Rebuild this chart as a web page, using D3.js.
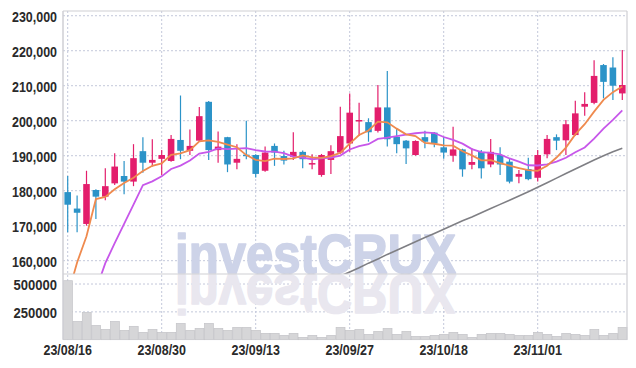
<!DOCTYPE html>
<html><head><meta charset="utf-8">
<script src="https://cdn.jsdelivr.net/npm/d3@7"></script>
<style>
html,body{margin:0;padding:0;background:#fff;}
svg{display:block;}
.lbl{font-family:"Liberation Sans",Arial,sans-serif;font-size:14px;fill:#2a2a2a;font-weight:bold;}
</style></head>
<body><svg id="c" width="636" height="368"></svg>
<script>
const dates = ["23/08/16","23/08/17","23/08/18","23/08/21","23/08/22","23/08/23","23/08/24","23/08/25","23/08/28","23/08/29",
"23/08/30","23/08/31","23/09/01","23/09/04","23/09/05","23/09/06","23/09/07","23/09/08","23/09/11","23/09/12",
"23/09/13","23/09/14","23/09/15","23/09/18","23/09/19","23/09/20","23/09/21","23/09/22","23/09/25","23/09/26",
"23/09/27","23/10/04","23/10/05","23/10/06","23/10/10","23/10/11","23/10/12","23/10/13","23/10/16","23/10/17",
"23/10/18","23/10/19","23/10/20","23/10/23","23/10/24","23/10/25","23/10/26","23/10/27","23/10/30","23/10/31",
"23/11/01","23/11/02","23/11/03","23/11/06","23/11/07","23/11/08","23/11/09","23/11/10","23/11/13","23/11/14"];
const open  = [179600,174900,170500,180200,178300,182100,184200,182600,191300,188000,
189100,188500,194500,191400,194300,205400,191600,195300,188000,190300,
190200,185700,192800,189900,189700,191100,187700,184500,188800,190900,
193500,200000,199600,197100,203800,195400,194300,190200,195300,196600,
192400,190000,191800,187400,191100,187500,190200,188300,184000,186200,
183700,190400,195300,194400,195900,204000,205100,215900,215200,207800];
const high  = [184200,178600,185700,180400,186400,190700,188500,193300,195300,194700,
191600,195900,207200,197500,203900,205600,196900,195400,193300,200000,
190400,192600,193500,191400,196700,191500,190400,190500,193000,204000,
207800,205100,200700,210200,214200,197800,194500,194400,197100,196800,
195400,198300,192000,192100,191600,194800,192400,189300,185900,189400,
191600,195900,196100,200200,205700,208100,217300,216200,218100,220200];
const low   = [168100,168100,170000,171900,177300,181600,179000,181300,185100,186900,
184500,188300,189000,190200,194000,188800,188000,185300,186100,189000,
183800,185400,187100,187500,188800,186400,186100,184000,184800,190500,
191100,195600,194000,196600,192600,190700,187600,190000,192100,192400,
189100,188300,184000,186100,183500,186700,184500,182100,182100,183000,
182600,189300,191600,190200,195700,201400,204700,206400,205900,205900];
const close = [176000,173700,181900,178300,181300,186900,182600,189300,188000,188800,
190200,194800,191400,192800,201300,191600,192600,187500,189100,190100,
184800,190900,190900,188600,191100,189000,187900,190200,191300,195600,
202300,200200,196700,203800,194700,193300,192100,194200,194000,193500,
190900,191800,186100,188200,186400,191100,187500,182600,184800,183300,
190200,194800,194300,199000,202100,204800,212800,211100,210000,210200];
const volume = [530000,164000,245000,128000,93000,164000,84000,120000,66000,93000,
66000,66000,146000,84000,102000,146000,102000,84000,111000,111000,
84000,57000,57000,39000,57000,21000,39000,21000,39000,111000,
84000,93000,48000,75000,102000,48000,75000,30000,30000,39000,
48000,66000,48000,21000,48000,57000,57000,48000,39000,39000,
66000,48000,30000,57000,48000,39000,93000,39000,57000,111000];
const ma5 = [150000,159500,167000,177600,178240,180420,182200,183680,185620,187120,
187780,190220,190640,191600,194100,194380,193940,193160,192420,190180,
188820,188480,189160,189060,189260,190100,189500,189360,189900,190800,
193460,195920,197220,199720,199540,197740,196120,195620,193660,193420,
192940,192880,191260,190100,188680,188720,187860,187160,186480,185860,
185680,187140,189480,192320,196080,199000,202600,205960,208160,209780];
const ma10 = [null,null,null,151600,159300,165000,170500,176000,181600,182680,
184100,186210,187160,188610,190610,191080,192080,191900,192010,192140,
191600,191210,191160,190740,189720,189460,188990,189260,189480,190030,
191780,192710,193290,194810,195170,195600,196020,196420,196690,196480,
195340,194500,193440,191880,191050,190830,190370,189210,188290,187270,
187200,187500,188320,189400,190970,192340,194870,197720,200240,202930];
const ma60 = [null,null,null,null,null,null,null,null,null,null,
null,null,null,null,null,null,null,null,null,null,
null,null,null,null,null,null,null,null,null,155600,
156800,158000,159300,160500,161800,163000,164200,165400,166600,167800,
169000,170200,171400,172500,173700,174900,176100,177300,178500,179700,
181000,182300,183600,184900,186200,187500,188800,190000,191100,192100];
const priceTicks = [160000,170000,180000,190000,200000,210000,220000,230000];
const volTicks = [250000,500000];
const dateTicks = ["23/08/16","23/08/30","23/09/13","23/09/27","23/10/18","23/11/01"];

const svg = d3.select("#c");
const L = 63, R = 627, T = 11, SEP = 274, B = 339.7;
const x = d3.scaleBand().domain(dates).range([L, R]).padding(0);
const cx = d => x(d) + x.bandwidth()/2;
const yP = d3.scaleLinear().domain([156200, 231350]).range([SEP, T]);
const yV = d3.scaleLinear().domain([0, 590000]).range([B, SEP]);
const gridC = "#c3c8da";

svg.append("defs").append("clipPath").attr("id","pc")
  .append("rect").attr("x",L).attr("y",T).attr("width",R-L).attr("height",SEP-T);

// grid
const g = svg.append("g");
g.selectAll(".hp").data(priceTicks).join("line")
  .attr("x1",L).attr("x2",R).attr("y1",d=>yP(d)).attr("y2",d=>yP(d))
  .attr("stroke",gridC).attr("stroke-dasharray","2,2").attr("stroke-width",1);
g.selectAll(".hv").data(volTicks).join("line")
  .attr("x1",L).attr("x2",R).attr("y1",d=>yV(d)).attr("y2",d=>yV(d))
  .attr("stroke",gridC).attr("stroke-dasharray","2,2").attr("stroke-width",1);
g.selectAll(".vv").data(dateTicks).join("line")
  .attr("x1",d=>cx(d)).attr("x2",d=>cx(d)).attr("y1",T).attr("y2",B)
  .attr("stroke",gridC).attr("stroke-dasharray","2,2").attr("stroke-width",1);

// watermark
const wm = svg.append("g");
const wmText = (sel, fill) => sel.attr("x",175).attr("y",273).text("investCRUX")
  .attr("font-family","Liberation Sans, Arial, sans-serif").attr("font-weight","bold")
  .attr("font-size",56).attr("textLength",281).attr("lengthAdjust","spacingAndGlyphs")
  .attr("fill",fill).attr("stroke",fill).attr("stroke-width",1.6).attr("stroke-linejoin","round");
wmText(wm.append("text"), "#cdd3e8");
wmText(wm.append("text").attr("transform","translate(0,548) scale(1,-1)"), "#e9e7ef");

// volume
svg.append("g").selectAll("rect").data(dates).join("rect")
  .attr("x",d=>x(d)+0.5).attr("width",x.bandwidth()-0.5)
  .attr("y",(d,i)=>yV(volume[i])).attr("height",(d,i)=>B-yV(volume[i]))
  .attr("fill","#d6d6d8").attr("stroke","#c4c4c8").attr("stroke-width",0.7);

// candles
const up = "#e31e6c", dn = "#2b93c8";
const cg = svg.append("g").attr("clip-path","url(#pc)");
const bw = x.bandwidth()*0.7;
dates.forEach((d,i)=>{
  const col = close[i] >= open[i] ? up : dn;
  cg.append("line").attr("x1",cx(d)).attr("x2",cx(d))
    .attr("y1",yP(high[i])).attr("y2",yP(low[i])).attr("stroke",col).attr("stroke-width",1.2);
  const y1 = yP(Math.max(open[i],close[i])), y2 = yP(Math.min(open[i],close[i]));
  cg.append("rect").attr("x",cx(d)-bw/2).attr("width",bw)
    .attr("y",y1).attr("height",Math.max(1.5,y2-y1)).attr("fill",col);
});

// moving averages
const mk = arr => d3.line().defined((v,i)=>arr[i]!=null).x((v,i)=>cx(dates[i])).y((v,i)=>yP(arr[i]));
const lg = svg.append("g").attr("clip-path","url(#pc)").attr("fill","none");
lg.append("path").attr("d",mk(ma60)(ma60)).attr("stroke","#7f7f84").attr("stroke-width",1.6);
lg.append("path").attr("d",mk(ma10)(ma10)).attr("stroke","#c757ea").attr("stroke-width",1.8);
lg.append("path").attr("d",mk(ma5)(ma5)).attr("stroke","#ef8a4e").attr("stroke-width",1.8);

// frame
const fc = "#cfcfd4";
svg.append("line").attr("x1",L).attr("x2",R).attr("y1",T).attr("y2",T).attr("stroke",fc).attr("stroke-width",1.2);
svg.append("line").attr("x1",L).attr("x2",R).attr("y1",SEP).attr("y2",SEP).attr("stroke",fc).attr("stroke-width",1.2);
svg.append("line").attr("x1",R).attr("x2",R).attr("y1",T).attr("y2",B).attr("stroke",fc).attr("stroke-width",1.2);
svg.append("line").attr("x1",L).attr("x2",L).attr("y1",T).attr("y2",B).attr("stroke",fc).attr("stroke-width",1.5);

// axes
const ay = svg.append("g").attr("transform",`translate(${L},0)`)
  .call(d3.axisLeft(yP).tickValues(priceTicks).tickFormat(d3.format(",")).tickSize(0).tickPadding(6));
const av = svg.append("g").attr("transform",`translate(${L},0)`)
  .call(d3.axisLeft(yV).tickValues(volTicks).tickFormat(d=>String(d)).tickSize(0).tickPadding(6));
const ax = svg.append("g").attr("transform",`translate(0,${B})`)
  .call(d3.axisBottom(x).tickValues(dateTicks).tickSize(0).tickPadding(5));
[ay,av,ax].forEach(a=>{
  a.select(".domain").remove();
  a.selectAll("text").attr("class","lbl").attr("font-family",null).attr("font-size",null).attr("fill",null);
});
ay.selectAll("text").attr("dy","0.4em").attr("textLength",45).attr("lengthAdjust","spacingAndGlyphs");
av.selectAll("text").attr("dy","0.4em").attr("textLength",43.5).attr("lengthAdjust","spacingAndGlyphs");
ax.selectAll("text").attr("textLength",48.5).attr("lengthAdjust","spacingAndGlyphs");
</script></body></html>
